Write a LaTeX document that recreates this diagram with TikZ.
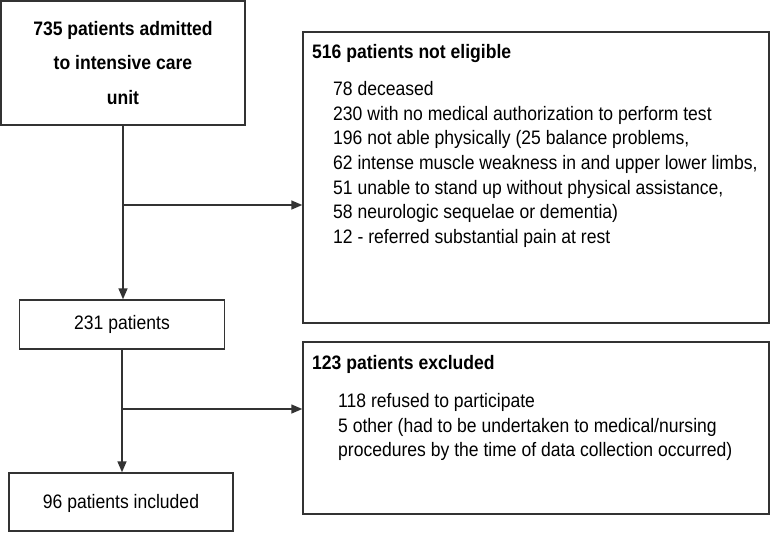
\documentclass[tikz,border=0pt]{standalone}
\usepackage{fontspec}
\setmainfont{Liberation Sans}[FakeStretch=0.9]
\usetikzlibrary{arrows.meta}
\begin{document}
\begin{tikzpicture}[x=1pt,y=-1pt,
  box/.style={draw=black!80,line width=1.4pt,rectangle,inner sep=0pt},
  txt/.style={inner sep=0pt,font=\fontsize{19.5}{24.7}\selectfont,align=left},
  btxt/.style={inner sep=0pt,font=\fontsize{19.5}{24.7}\selectfont\bfseries},
  arr/.style={draw=black!80,line width=1.4pt,-{Triangle[length=11pt,width=9pt]}}]
\useasboundingbox (0,0) rectangle (771,533);
\node[box,minimum width=244pt,minimum height=124pt] (b1) at (123,63) {};
\node[box,minimum width=205pt,minimum height=49pt] (b2) at (122,324.5) {};
\node[box,minimum width=466pt,minimum height=291pt] (b3) at (536,177.5) {};
\node[box,minimum width=466pt,minimum height=172pt] (b4) at (536,428) {};
\node[box,minimum width=224pt,minimum height=58pt] (b5) at (121,502) {};
\node[btxt,align=center,font=\fontsize{19.5}{34.5}\selectfont\bfseries] (t1) at (123,63) {735 patients admitted\\to intensive care\\unit};
\node[txt] (t2) at (122,324) {231 patients};
\node[txt] (t5) at (121,503) {96 patients included};
\node[btxt,anchor=west] (t3) at (312,53) {516 patients not eligible};
\node[txt,anchor=north west] (l3) at (333,81) {78 deceased\\230 with no medical authorization to perform test\\196 not able physically (25 balance problems,\\62 intense muscle weakness in and upper lower limbs,\\51 unable to stand up without physical assistance,\\58 neurologic sequelae or dementia)\\12 - referred substantial pain at rest};
\node[btxt,anchor=west] (t4) at (312,364) {123 patients excluded};
\node[txt,anchor=north west] (l4) at (338,393) {118 refused to participate\\5 other (had to be undertaken to medical/nursing\\procedures by the time of data collection occurred)};
\coordinate (j1) at (122,205);
\coordinate (j2) at (122,409);
\draw[arr] (b1.south) -- (b1.south |- b2.north);
\draw[arr] (b2.south) -- (b2.south |- b5.north);
\draw[arr] (j1) -- (j1 -| b3.west);
\draw[arr] (j2) -- (j2 -| b4.west);
\end{tikzpicture}
\end{document}
